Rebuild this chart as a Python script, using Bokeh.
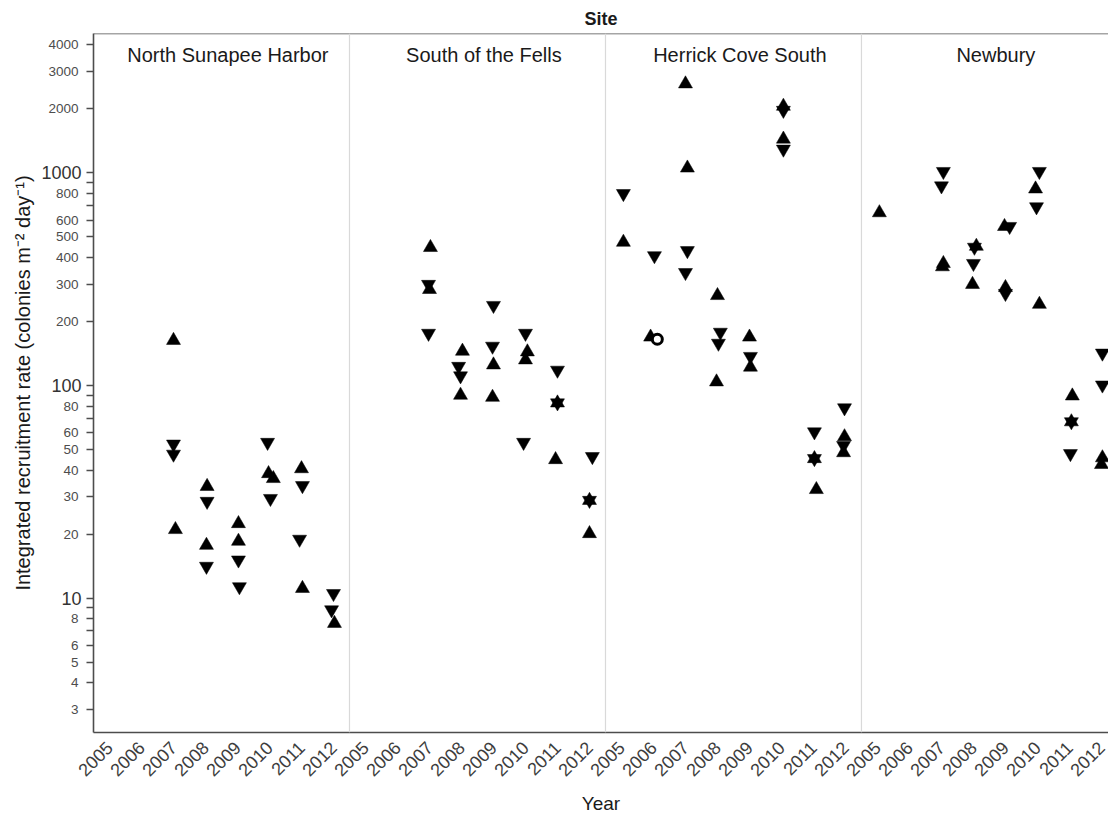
import math
from bokeh.plotting import figure
from bokeh.models import Range1d, FixedTicker, Span, Label, ColumnDataSource, LogAxis
from bokeh.embed import file_html
from bokeh.resources import INLINE

# ---------------- data ----------------
sites = ["North Sunapee Harbor", "South of the Fells", "Herrick Cove South", "Newbury"]
years = [2005, 2006, 2007, 2008, 2009, 2010, 2011, 2012]

y_tick_values = [3, 4, 5, 6, 7, 8, 9, 10, 20, 30, 40, 50, 60, 70, 80, 90, 100,
                 200, 300, 400, 500, 600, 700, 800, 900, 1000, 2000, 3000, 4000]
small_tick_labels = ["3", "4", "5", "6", "", "8", "", "", "20", "30", "40", "50", "60", "", "80", "", "",
                     "200", "300", "400", "500", "600", "", "800", "", "", "2000", "3000", "4000"]
big_tick_values = [10, 100, 1000]

# North Sunapee Harbor
nsh_up_year = [2007, 2007, 2008, 2008, 2009, 2009, 2010, 2010, 2011, 2011, 2012]
nsh_up_value = [163, 21, 33.5, 17.7, 22.4, 18.5, 38.5, 36.5, 40.6, 11.1, 7.6]
nsh_up_jitter = [0, 0.06, 0.05, 0.03, 0.03, 0.03, -0.03, 0.12, 0, 0.03, 0.03]
nsh_down_year = [2007, 2007, 2008, 2008, 2009, 2009, 2010, 2010, 2011, 2011, 2012, 2012]
nsh_down_value = [53, 47.5, 28.5, 14.1, 15.1, 11.3, 54, 29.4, 33.8, 18.9, 10.5, 8.8]
nsh_down_jitter = [0, 0, 0.05, 0.03, 0.03, 0.06, -0.06, 0.03, 0.03, -0.06, 0, -0.06]

# South of the Fells
sof_up_year = [2007, 2007, 2008, 2008, 2009, 2009, 2010, 2010, 2011, 2011, 2012, 2012]
sof_up_value = [446, 283, 145, 90, 125, 88, 144, 132, 82.8, 44.8, 28.8, 20.1]
sof_up_jitter = [0.03, 0, 0.03, -0.03, 0, -0.03, 0.06, 0, 0, -0.06, 0, 0]
sof_down_year = [2007, 2007, 2008, 2008, 2009, 2009, 2010, 2010, 2011, 2011, 2012, 2012]
sof_down_value = [299, 176, 123, 111, 238, 153, 176, 54, 118, 82.8, 46.3, 28.8]
sof_down_jitter = [-0.03, -0.03, -0.09, -0.03, 0, -0.03, 0, -0.06, 0, 0, 0.09, 0]

# Herrick Cove South
hcs_up_year = [2005, 2006, 2007, 2007, 2008, 2008, 2009, 2009, 2010, 2010, 2011, 2011, 2012, 2012]
hcs_up_value = [472, 169, 2625, 1055, 265, 104, 169, 122, 2060, 1443, 45.3, 32.4, 57.4, 48.3]
hcs_up_jitter = [0.06, -0.09, 0, 0.06, 0, -0.03, 0, 0.03, 0.06, 0.06, 0.03, 0.09, -0.03, -0.06]
hcs_down_year = [2005, 2006, 2007, 2007, 2008, 2008, 2009, 2010, 2010, 2011, 2011, 2012, 2012]
hcs_down_value = [800, 408, 431, 340, 178, 158, 137, 1970, 1294, 60.5, 45.3, 78.5, 52.2]
hcs_down_jitter = [0.06, 0.03, 0.06, 0, 0.09, 0.03, 0.03, 0.06, 0.06, 0.03, 0.03, -0.03, -0.06]
hcs_circle_year = [2006]
hcs_circle_value = [165]
hcs_circle_jitter = [0.12]

# Newbury
nb_up_year = [2005, 2007, 2007, 2008, 2008, 2009, 2009, 2010, 2010, 2011, 2011, 2012, 2012]
nb_up_value = [650, 375, 362, 452, 299, 560, 289, 841, 241, 67.5, 89.3, 45.7, 42.5]
nb_up_jitter = [0.06, 0.06, 0.03, 0.09, -0.03, -0.03, 0, -0.06, 0.06, 0.06, 0.09, 0.03, 0]
nb_down_year = [2007, 2007, 2008, 2008, 2009, 2009, 2010, 2010, 2011, 2011, 2012, 2012]
nb_down_value = [1016, 869, 447, 375, 560, 271, 1016, 693, 67.5, 47.8, 142, 100.5]
nb_down_jitter = [0.06, 0, 0.03, 0, 0.13, 0, 0.06, -0.03, 0.06, 0.03, 0.03, 0.03]

up_sets = [(nsh_up_year, nsh_up_value, nsh_up_jitter), (sof_up_year, sof_up_value, sof_up_jitter),
           (hcs_up_year, hcs_up_value, hcs_up_jitter), (nb_up_year, nb_up_value, nb_up_jitter)]
down_sets = [(nsh_down_year, nsh_down_value, nsh_down_jitter), (sof_down_year, sof_down_value, sof_down_jitter),
             (hcs_down_year, hcs_down_value, hcs_down_jitter), (nb_down_year, nb_down_value, nb_down_jitter)]

n_years = len(years)


def build(sets):
    xs, ys = [], []
    for si, (yr, val, jit) in enumerate(sets):
        for a, b, c in zip(yr, val, jit):
            xs.append(si * n_years + years.index(a) + c)
            ys.append(b)
    return ColumnDataSource(dict(x=xs, y=ys))


up_src = build(up_sets)
down_src = build(down_sets)
circle_src = build([([], [], []), ([], [], []), (hcs_circle_year, hcs_circle_value, hcs_circle_jitter), ([], [], [])])

# ---------------- figure ----------------
FONT = "Liberation Sans"
AXIS_COL = "#4d4d4d"

p = figure(width=1108, height=817,
           x_range=Range1d(-0.5, 31.22), y_range=Range1d(2.33, 4530),
           y_axis_type="log", output_backend="svg", toolbar_location=None,
           min_border_left=93, min_border_right=0, min_border_top=33, min_border_bottom=82)

p.grid.visible = False
p.outline_line_color = None
p.background_fill_color = "white"

p.title.text = "Site"
p.title.align = "center"
p.title.text_font = FONT
p.title.text_font_size = "18px"
p.title.text_font_style = "bold"
p.title.text_color = "#1a1a1a"
p.title.standoff = 10

# x axis
p.xaxis.ticker = FixedTicker(ticks=list(range(len(sites) * n_years)))
p.xaxis.major_label_overrides = {i: str(years[i % n_years]) for i in range(len(sites) * n_years)}
p.xaxis.major_label_orientation = math.pi / 4
p.xaxis.major_tick_out = 0
p.xaxis.major_tick_in = 0
p.xaxis.minor_tick_out = 0
p.xaxis.minor_tick_in = 0
p.xaxis.major_label_standoff = 12
p.xaxis.major_label_text_font = FONT
p.xaxis.major_label_text_font_size = "18px"
p.xaxis.major_label_text_color = "#3d3d3d"
p.xaxis.axis_label = "Year"
p.xaxis.axis_label_text_font = FONT
p.xaxis.axis_label_text_font_size = "19px"
p.xaxis.axis_label_text_font_style = "normal"
p.xaxis.axis_label_text_color = "#1a1a1a"
p.xaxis.axis_label_standoff = 8
p.xaxis.axis_line_color = AXIS_COL
p.xaxis.axis_line_width = 1.6

# inner y axis: ticks and the larger decade labels
big_overrides = {v: (str(v) if v in big_tick_values else "") for v in y_tick_values}
inner = p.yaxis[0]
inner.ticker = FixedTicker(ticks=y_tick_values, minor_ticks=[])
inner.major_label_overrides = big_overrides
inner.major_tick_out = 7
inner.major_tick_in = 0
inner.minor_tick_out = 0
inner.minor_tick_in = 0
inner.major_tick_line_color = AXIS_COL
inner.major_tick_line_width = 1.3
inner.major_label_standoff = 5
inner.major_label_text_font = FONT
inner.major_label_text_font_size = "18px"
inner.major_label_text_color = "#333333"
inner.axis_line_color = AXIS_COL
inner.axis_line_width = 1.6

# outer y axis: the smaller labels, pulled back next to the ticks
outer = LogAxis(ticker=FixedTicker(ticks=y_tick_values, minor_ticks=[]),
                major_label_overrides={v: t for v, t in zip(y_tick_values, small_tick_labels)})
outer.axis_line_color = None
outer.major_tick_line_color = None
outer.minor_tick_line_color = None
outer.major_tick_out = 0
outer.major_tick_in = 0
outer.minor_tick_out = 0
outer.minor_tick_in = 0
outer.major_label_standoff = -40
outer.major_label_text_font = FONT
outer.major_label_text_font_size = "13.5px"
outer.major_label_text_color = AXIS_COL
outer.axis_label = "Integrated recruitment rate (colonies m\u207b\u00b2 day\u207b\u00b9)"
outer.axis_label_text_font = FONT
outer.axis_label_text_font_size = "20px"
outer.axis_label_text_font_style = "normal"
outer.axis_label_text_color = "#1a1a1a"
outer.axis_label_standoff = 11
p.add_layout(outer, "left")

# top border line
p.add_layout(Span(location=4530, dimension="width", line_color=AXIS_COL, line_width=1.6))

# panel separators
for si in range(1, len(sites)):
    p.add_layout(Span(location=si * n_years - 0.5, dimension="height", line_color="#d9d9d9", line_width=1.2))

# strip labels
for si, s in enumerate(sites):
    p.add_layout(Label(x=si * n_years + (n_years - 1) / 2 + 0.2, y=3570, text=s, text_align="center",
                       text_baseline="middle", text_font=FONT, text_font_size="20px", text_color="#1a1a1a"))

# markers
p.scatter("x", "y", source=up_src, marker="triangle", size=14,
          fill_color="black", line_color="black", line_width=0.5)
p.scatter("x", "y", source=down_src, marker="inverted_triangle", size=14,
          fill_color="black", line_color="black", line_width=0.5)
p.scatter("x", "y", source=circle_src, marker="circle", size=10,
          fill_color="white", line_color="black", line_width=3)

open("out.html", "w").write(file_html(p, INLINE))
